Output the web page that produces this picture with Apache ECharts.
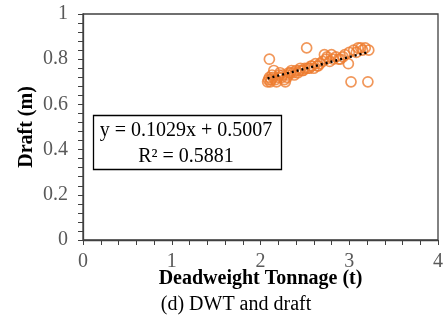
<!DOCTYPE html>
<html><head><meta charset="utf-8">
<script src="https://cdn.jsdelivr.net/npm/echarts@6/dist/echarts.min.js"></script>
<style>html,body{margin:0;padding:0;background:#fff}#c{width:446px;height:322px}</style>
</head><body><div id="c"></div>
<script>
var dwt = [2.08,2.09,2.10,2.10,2.11,2.12,2.13,2.14,2.15,2.17,2.18,2.20,2.21,2.22,2.24,2.25,2.27,2.28,2.30,2.31,2.32,2.34,2.35,2.37,2.38,2.40,2.42,2.44,2.45,2.47,2.48,2.50,2.52,2.53,2.55,2.57,2.58,2.60,2.62,2.64,2.65,2.67,2.70,2.72,2.74,2.75,2.78,2.80,2.82,2.85,2.88,2.90,2.93,2.95,2.99,3.00,3.02,3.05,3.08,3.10,3.13,3.15,3.18,3.21,3.22];
var draft = [0.70,0.71,0.72,0.80,0.70,0.71,0.73,0.72,0.75,0.71,0.70,0.72,0.73,0.74,0.72,0.73,0.71,0.70,0.72,0.73,0.74,0.74,0.75,0.74,0.73,0.75,0.74,0.75,0.76,0.75,0.75,0.76,0.85,0.76,0.76,0.77,0.77,0.76,0.78,0.77,0.77,0.78,0.79,0.82,0.80,0.81,0.79,0.82,0.80,0.81,0.80,0.80,0.81,0.82,0.78,0.83,0.70,0.84,0.83,0.85,0.85,0.84,0.85,0.70,0.84];
var slope = 0.1029, intercept = 0.5007, r2 = 0.5881;
var xTicks = [0,1,2,3,4];
var yTicks = [0,0.2,0.4,0.6,0.8,1];

var pts = dwt.map(function(x,i){return [x, draft[i]];});
var xmin = Math.min.apply(null,dwt), xmax = Math.max.apply(null,dwt);
var trend = [[xmin, slope*xmin+intercept],[xmax, slope*xmax+intercept]];
var serif = '"Liberation Serif","Times New Roman",serif';
var axisCol = '#404040';
var chart = echarts.init(document.getElementById('c'));
chart.setOption({
  animation:false,
  grid:{left:83,right:3,top:14,bottom:82,show:true,borderColor:axisCol,borderWidth:1.3,backgroundColor:'transparent'},
  xAxis:{type:'value',min:0,max:4,interval:1,
    name:'Deadweight Tonnage (t)',nameLocation:'middle',nameGap:29,nameMoveOverlap:false,
    nameTextStyle:{fontFamily:serif,fontSize:20,fontWeight:'bold',color:'#000'},
    axisLine:{show:true,lineStyle:{color:axisCol,width:1.3}},
    axisTick:{show:true,length:5,lineStyle:{color:axisCol}},
    minorTick:{show:true,splitNumber:5,length:5,lineStyle:{color:axisCol}},
    splitLine:{show:false},
    axisLabel:{fontFamily:serif,fontSize:20,color:'#595959',margin:12,
      formatter:function(v){return xTicks.indexOf(v)>=0?String(v):'';}}},
  yAxis:{type:'value',min:0,max:1,interval:0.2,
    name:'Draft (m)',nameLocation:'middle',nameGap:46,nameMoveOverlap:false,
    nameTextStyle:{fontFamily:serif,fontSize:20,fontWeight:'bold',color:'#000'},
    axisLine:{show:true,lineStyle:{color:axisCol,width:1.3}},
    axisTick:{show:true,length:5,lineStyle:{color:axisCol}},
    minorTick:{show:true,splitNumber:5,length:5,lineStyle:{color:axisCol}},
    splitLine:{show:false},
    axisLabel:{fontFamily:serif,fontSize:20,color:'#595959',margin:15,
      formatter:function(v){var t=yTicks.find(function(q){return Math.abs(q-v)<1e-9;});return t===undefined?'':String(t);}}},
  series:[
    {type:'scatter',data:pts,symbol:'circle',symbolSize:10,
     itemStyle:{color:'rgba(255,255,255,0)',borderColor:'#ED7D31',borderWidth:1.7},z:2},
    {type:'line',data:trend,symbol:'none',
     lineStyle:{color:'#000',width:2.4,type:[2,3]},z:3}
  ],
  graphic:[
    {type:'rect',shape:{x:93.5,y:115.5,width:188,height:54},style:{fill:'#fff',stroke:'#000',lineWidth:1.3},z:10},
    {type:'text',x:186,y:131,style:{text:'y = 0.1029x + 0.5007',font:'20px '+serif,fill:'#000',textAlign:'center',textVerticalAlign:'middle'},z:11},
    {type:'text',x:186,y:157,style:{text:'R² = '+r2.toFixed(4),font:'20px '+serif,fill:'#000',textAlign:'center',textVerticalAlign:'middle'},z:11},
    {type:'text',x:236,y:305,style:{text:'(d) DWT and draft',font:'20px '+serif,fill:'#000',textAlign:'center',textVerticalAlign:'middle'},z:11}
  ]
});
</script></body></html>
